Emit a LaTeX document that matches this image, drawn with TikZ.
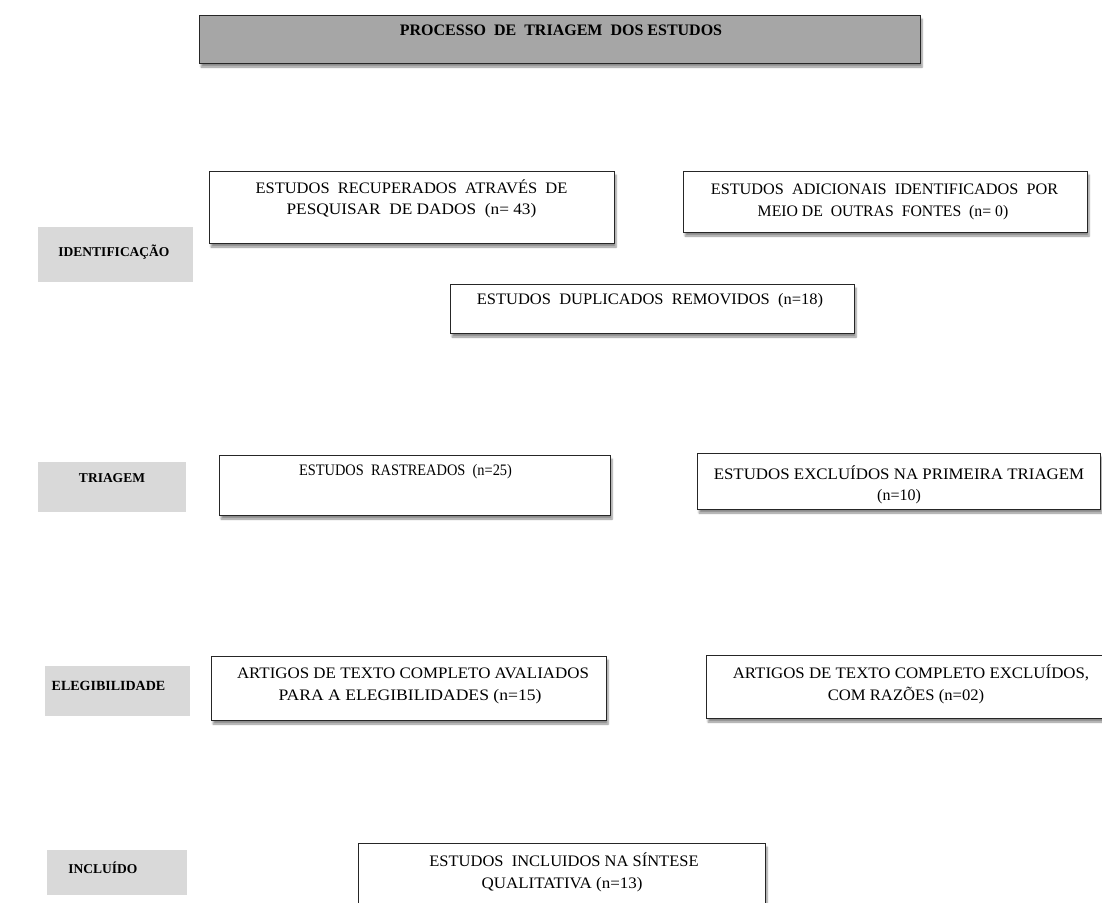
\documentclass[tikz,border=0pt]{standalone}
\usepackage{fontspec}
\setmainfont{Liberation Serif}
\usetikzlibrary{shadows.blur}
\begin{document}
\begin{tikzpicture}[x=1pt,y=-1pt,
  box/.style={draw=black!85, line width=0.8pt, fill=white, inner sep=0pt,
    blur shadow={shadow xshift=2pt, shadow yshift=-4pt, shadow blur steps=6, shadow opacity=45}},
  titlebox/.style={box, fill=black!35},
  stage/.style={fill=black!15, inner sep=0pt},
  txt/.style={font=\fontsize{16}{21}\selectfont, inner sep=0pt, anchor=base},
  stxt/.style={font=\fontsize{13.5}{16}\selectfont\bfseries, inner sep=0pt},
  ttxt/.style={font=\fontsize{16}{18}\selectfont\bfseries, inner sep=0pt, anchor=base}]
\useasboundingbox (0,0) rectangle (1102,902);
% title
\node[titlebox, minimum width=721pt, minimum height=48pt] (title) at (559.5,39) {};
\node[ttxt] (titlet) at (561,35.3) {PROCESSO\ \ DE\ \ TRIAGEM\ \ DOS\ ESTUDOS};
% stage labels
\node[stage, minimum width=155pt, minimum height=55pt] (s1) at (115.5,254.5) {};
\node[stxt] (s1t) at (114,252) {IDENTIFICAÇÃO};
\node[stage, minimum width=148pt, minimum height=50pt] (s2) at (112,487) {};
\node[stxt] (s2t) at (112,478) {TRIAGEM};
\node[stage, minimum width=145pt, minimum height=50pt] (s3) at (117.5,691) {};
\node[stxt, font=\fontsize{14}{16}\selectfont\bfseries] (s3t) at (108.5,686) {ELEGIBILIDADE};
\node[stage, minimum width=140pt, minimum height=45pt] (s4) at (117,872.5) {};
\node[stxt] (s4t) at (103,868) {INCLUÍDO};
% boxes
\node[box, minimum width=405pt, minimum height=72pt] (b1) at (411.5,207) {};
\node[txt] (b1a) at (411.5,193.3) {\scalebox{1.03}[1]{ESTUDOS\ \ RECUPERADOS\ \ ATRAVÉS\ \ DE}};
\node[txt] (b1b) at (411.5,214.3) {\scalebox{1.08}[1]{PESQUISAR\ \ DE\ DADOS\ \ (n=\ 43)}};
\node[box, minimum width=404pt, minimum height=61pt] (b2) at (885,201.5) {};
\node[txt] (b2a) at (884.5,194.3) {\scalebox{1.015}[1]{ESTUDOS\ \ ADICIONAIS\ \ IDENTIFICADOS\ \ POR}};
\node[txt] (b2b) at (883,216.3) {\scalebox{0.985}[1]{MEIO DE\ \ OUTRAS\ \ FONTES\ \ (n=\ 0)}};
\node[box, minimum width=404pt, minimum height=49pt] (b3) at (652,308.5) {};
\node[txt] (b3t) at (650,304.3) {\scalebox{1.03}[1]{ESTUDOS\ \ DUPLICADOS\ \ REMOVIDOS\ \ (n=18)}};
\node[box, minimum width=391pt, minimum height=60pt] (b4) at (414.5,485) {};
\node[txt] (b4t) at (405.5,475.3) {\scalebox{0.9}[1]{ESTUDOS\ \ RASTREADOS\ \ (n=25)}};
\node[box, minimum width=403pt, minimum height=56pt] (b5) at (898.5,481) {};
\node[txt] (b5a) at (899,479.3) {\scalebox{1.055}[1]{ESTUDOS EXCLUÍDOS NA PRIMEIRA TRIAGEM}};
\node[txt] (b5b) at (899,500.3) {(n=10)};
\node[box, minimum width=395pt, minimum height=64pt] (b6) at (408.5,688) {};
\node[txt] (b6a) at (413,678.3) {\scalebox{1.057}[1]{ARTIGOS DE TEXTO COMPLETO AVALIADOS}};
\node[txt] (b6b) at (410,700.3) {\scalebox{1.1}[1]{PARA A ELEGIBILIDADES (n=15)}};
\node[box, minimum width=396pt, minimum height=63pt] (b7) at (904,686.5) {};
\node[txt] (b7a) at (911,678.3) {\scalebox{1.053}[1]{ARTIGOS DE TEXTO COMPLETO EXCLUÍDOS,}};
\node[txt] (b7b) at (906,700.3) {\scalebox{1.04}[1]{COM RAZÕES (n=02)}};
\node[box, minimum width=407pt, minimum height=70pt] (b8) at (561.5,878) {};
\node[txt] (b8a) at (564,866.3) {\scalebox{1.03}[1]{ESTUDOS\ \ INCLUIDOS NA\ SÍNTESE}};
\node[txt] (b8b) at (562,888.3) {\scalebox{1.06}[1]{QUALITATIVA (n=13)}};
\end{tikzpicture}
\end{document}
